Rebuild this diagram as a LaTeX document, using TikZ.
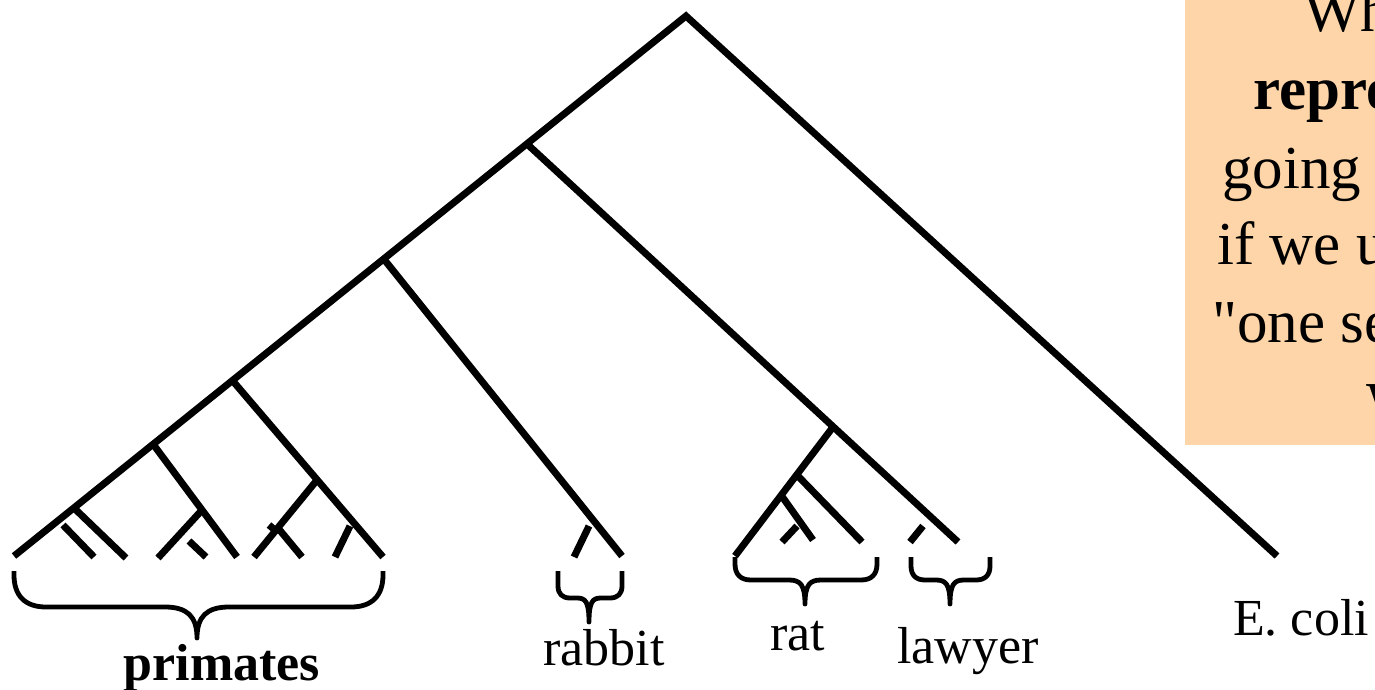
\documentclass[tikz,border=0pt]{standalone}
\usepackage{fontspec}
\setmainfont{Liberation Serif}
\newfontfamily\notefont{Liberation Serif}[Ligatures=TeXOff]
\definecolor{peach}{RGB}{253,213,168}
\tikzset{
  branch/.style={line width=7pt, line cap=butt, line join=miter},
  bracestyle/.style={line width=4.8pt, line cap=butt, line join=round},
  lbl/.style={inner sep=0pt, anchor=base, font=\fontsize{52}{60}\selectfont},
  boxtxt/.style={inner sep=0pt, anchor=base west, font=\notefont\fontsize{61}{70}\selectfont},
}
\newcommand{\cbrace}[7]{%
  \draw[bracestyle] (#1,#3) -- (#1,{#4-#7})
    .. controls (#1,{#4-0.35*#7}) and ({#1+0.35*#7},#4) .. ({#1+#7},#4)
    -- ({#5-#7},#4)
    .. controls ({#5-0.3*#7},#4) and (#5,{#4+0.3*#7}) .. (#5,#6)
    .. controls (#5,{#4+0.3*#7}) and ({#5+0.3*#7},#4) .. ({#5+#7},#4)
    -- ({#2-#7},#4)
    .. controls ({#2-0.35*#7},#4) and (#2,{#4-0.35*#7}) .. (#2,{#4-#7})
    -- (#2,#3);}
\begin{document}
\begin{tikzpicture}[x=1pt,y=-1pt]
\useasboundingbox (0,0) rectangle (1375,690);
\clip (0,0) rectangle (1375,690);
% note box
\fill[peach] (1185,-10) rectangle (1390,445);
\node[boxtxt] (t1) at (1303,32) {What};
\node[boxtxt] (t2) at (1253,110) {\bfseries representative};
\node[boxtxt] (t3) at (1222,188) {going to};
\node[boxtxt] (t4) at (1217,264) {if we use};
\node[boxtxt] (t5) at (1212,342) {"one sequence};
\node[boxtxt] (t6) at (1366,424) {We};
% tree coordinates
\coordinate (root) at (686,16);
\coordinate (leafL) at (14,556);
\coordinate (ecoli) at (1277,556);
\coordinate (A) at (526,143);
\coordinate (B) at (383,258);
\coordinate (C) at (232,380);
\coordinate (D) at (153,444);
\coordinate (E) at (74,508);
\coordinate (lawyerR) at (958,542);
\coordinate (R) at (833,427);
\coordinate (ratL) at (735,556);
\coordinate (R1) at (797,475);
\coordinate (R2) at (781,495);
\coordinate (rat1) at (862,542);
\coordinate (rat2) at (813,540);
\coordinate (rabbitR) at (622,556);
\coordinate (C1) at (317,480);
\coordinate (C2) at (278,528);
\coordinate (Cl) at (383,557);
\coordinate (Cm) at (254,557);
\coordinate (Cn) at (302,557);
\coordinate (D1) at (202,510);
\coordinate (Dl) at (237,557);
\coordinate (Dm) at (158,558);
\coordinate (El) at (126,558);
% main branches
\draw[branch] (leafL) -- (root) -- (ecoli);
\draw[branch] (A) -- (lawyerR);
\draw[branch] (R) -- (ratL);
\draw[branch] (R1) -- (rat1);
\draw[branch] (R2) -- (rat2);
\draw[branch] (B) -- (rabbitR);
\draw[branch] (C) -- (Cl);
\draw[branch] (C1) -- (Cm);
\draw[branch] (C2) -- (Cn);
\draw[branch] (D) -- (Dl);
\draw[branch] (D1) -- (Dm);
\draw[branch] (E) -- (El);
% short stubs
\coordinate (s1a) at (63,525); \coordinate (s1b) at (94,557);
\coordinate (s2a) at (189,541); \coordinate (s2b) at (206,557);
\coordinate (s3a) at (350,526); \coordinate (s3b) at (335,557);
\coordinate (s4a) at (269,525); \coordinate (s4b) at (276,531);
\coordinate (s5a) at (589,526); \coordinate (s5b) at (574,557);
\coordinate (s6a) at (797,526); \coordinate (s6b) at (782,542);
\coordinate (s7a) at (923,526); \coordinate (s7b) at (910,542);
\draw[branch] (s1a) -- (s1b);
\draw[branch] (s2a) -- (s2b);
\draw[branch] (s3a) -- (s3b);
\draw[branch] (s4a) -- (s4b);
\draw[branch] (s5a) -- (s5b);
\draw[branch] (s6a) -- (s6b);
\draw[branch] (s7a) -- (s7b);
% braces
\cbrace{14}{383}{571}{607}{197}{638}{32}
\cbrace{558}{622}{571}{598}{589}{622}{12}
\cbrace{735}{877}{557}{580}{805}{604}{16}
\cbrace{911}{990}{557}{580}{950}{604}{14}
% labels
\node[lbl] (primates) at (222,680) {\bfseries primates};
\node[lbl] (rabbit) at (604,665) {rabbit};
\node[lbl] (rat) at (798,650) {rat};
\node[lbl] (lawyer) at (968,663) {lawyer};
\node[lbl, anchor=base west] (ecolilbl) at (1233,635) {E. coli};
\end{tikzpicture}
\end{document}
